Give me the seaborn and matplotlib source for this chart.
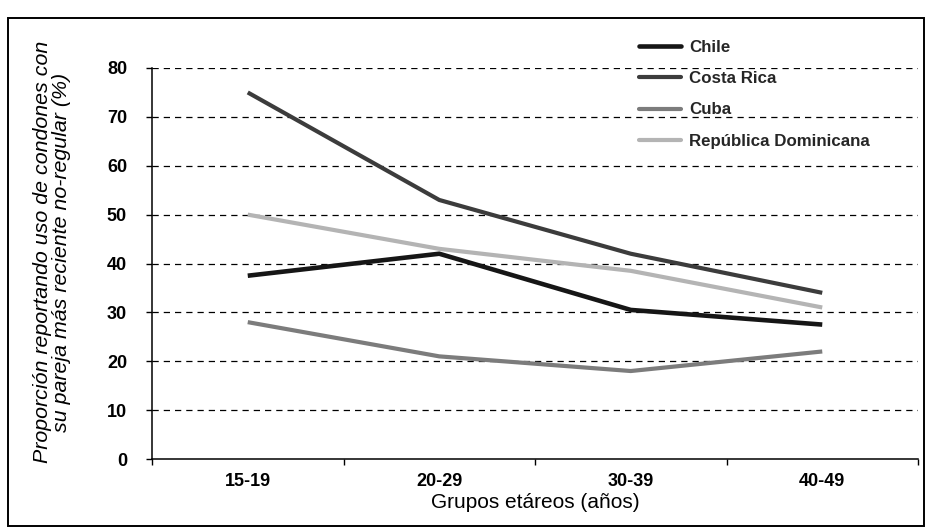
import matplotlib
matplotlib.use("Agg")
import matplotlib.pyplot as plt
from matplotlib.patches import Rectangle
from matplotlib.lines import Line2D
from matplotlib.ticker import FixedLocator
import numpy as np
import pandas as pd
import seaborn as sns

# Age groups and condom-use percentages by country
grupos = ["15-19", "20-29", "30-39", "40-49"]
chile = [37.5, 42.0, 30.5, 27.5]
costa_rica = [75.0, 53.0, 42.0, 34.0]
cuba = [28.0, 21.0, 18.0, 22.0]
rep_dominicana = [50.0, 43.0, 38.5, 31.0]

paises = ["Chile", "Costa Rica", "Cuba", "República Dominicana"]
colores = ["#161616", "#3c3c3c", "#7c7c7c", "#b4b4b4"]
grosores = [3.3, 3.0, 3.0, 3.0]

df = pd.DataFrame({
    "pos": list(range(len(grupos))) * 4,
    "valor": chile + costa_rica + cuba + rep_dominicana,
    "pais": [p for p in paises for _ in grupos],
})

sns.set_theme(style="white")
plt.rcParams["font.family"] = ["Liberation Sans", "DejaVu Sans"]

fig = plt.figure(figsize=(9.27, 5.31), dpi=100)
ax = fig.add_axes([152 / 927, 1 - 459 / 531, (918 - 152) / 927, (459 - 68) / 531])

# Dashed horizontal reference lines
for yv in range(10, 90, 10):
    ax.axhline(yv, color="black", lw=0.9, ls=(0, (5, 4)), zorder=1)

sns.lineplot(data=df, x="pos", y="valor", hue="pais", hue_order=paises,
             palette=colores, sort=False, ax=ax, legend=False, zorder=3)
for line, lw in zip(ax.lines[-4:], grosores):
    line.set_linewidth(lw)
    line.set_solid_capstyle("butt")

ax.set_xlim(-0.5, len(grupos) - 0.5)
ax.set_ylim(0, 80)
ax.set_yticks(range(0, 90, 10))
ax.set_xticks(range(len(grupos)))
ax.set_xticklabels(grupos)
ax.xaxis.set_minor_locator(FixedLocator(np.arange(-0.5, len(grupos), 1.0)))
ax.tick_params(axis="x", which="major", length=0, pad=10)
ax.tick_params(axis="x", which="minor", direction="out", length=4, width=1, color="black", bottom=True)
ax.tick_params(axis="y", direction="out", length=4, width=1, color="black", left=True, pad=14)
for lab in ax.get_xticklabels() + ax.get_yticklabels():
    lab.set_fontweight("bold")
    lab.set_fontsize(13)
    lab.set_color("black")

for side in ["top", "right"]:
    ax.spines[side].set_visible(False)
for side in ["left", "bottom"]:
    ax.spines[side].set_color("black")
    ax.spines[side].set_linewidth(1.1)

ax.set_xlabel("Grupos etáreos (años)", fontsize=15, color="black", labelpad=2)
ax.set_ylabel("Proporción reportando uso de condones con\nsu pareja más reciente no-regular (%)",
              fontsize=15.4, fontstyle="italic", color="black", linespacing=1.0)
ax.yaxis.set_label_coords(-0.106, 0.529)

# Legend in the upper right corner
handles = [Line2D([0], [0], color=c, lw=lw) for c, lw in zip(colores, grosores)]
ax.legend(handles, paises, loc="upper left", bbox_to_anchor=(0.616, 1.11),
          frameon=False, handlelength=2.5, handletextpad=0.45, labelspacing=0.95,
          prop={"weight": "bold", "size": 12.2})

# Outer frame around the whole figure
fig.patches.append(Rectangle((8 / 927, 5 / 531), (924 - 8) / 927, (513 - 5) / 531,
                             transform=fig.transFigure, fill=False, edgecolor="black", lw=1.4))

fig.savefig("out.png", dpi=100, facecolor="white")
